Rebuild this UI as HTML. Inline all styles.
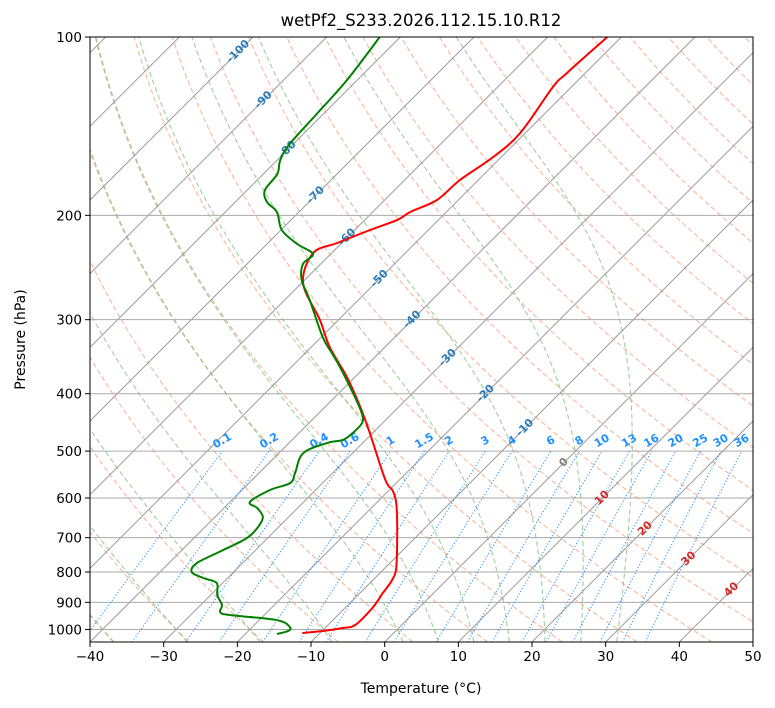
<!DOCTYPE html>
<html><head><meta charset="utf-8"><style>
html,body{margin:0;padding:0;background:#fff;}
svg{display:block;font-family:"DejaVu Sans","Liberation Sans",sans-serif;}
</style></head><body>
<svg id="chart" width="775" height="708" viewBox="0 0 775 708" xmlns="http://www.w3.org/2000/svg">
<defs><clipPath id="clip"><rect x="90" y="37" width="663" height="605"/></clipPath></defs>
<text x="421" y="26" text-anchor="middle" font-size="16.5">wetPf2_S233.2026.112.15.10.R12</text>
<g id="bg" clip-path="url(#clip)"></g>
<g id="lbl"></g>
<g id="prof" clip-path="url(#clip)"></g>
<rect x="90" y="37" width="663" height="605" fill="none" stroke="#000" stroke-width="1"/>
<g id="axes"></g>
<text x="421" y="693" text-anchor="middle" font-size="14">Temperature (°C)</text>
<text transform="translate(25,339.5) rotate(-90)" text-anchor="middle" font-size="14">Pressure (hPa)</text>
</svg>
<script>
// ---- data ----
const tempP = [100,115,121.4,145.2,159.5,174.3,188.4,197.4,203.7,211.7,222.7,231.5,260.2,300.4,333.7,374.9,421.3,465.9,559.4,581.6,611.7,679.5,784.6,825.3,868.1,919.9,982.9,994.3,1006,1014];
const tempT = [-51.9,-52.5,-52.5,-50.7,-51.1,-52.5,-52.9,-54.9,-55.6,-57.9,-60.6,-62.5,-59.8,-52.5,-47.5,-41.1,-35.2,-30.4,-21.9,-19.6,-17.3,-13.5,-8.6,-7.4,-6.9,-6.3,-6.3,-7.6,-9.9,-12.4];
const dewP = [100,118.2,134.9,151.6,161.3,170.3,181.3,189.9,197.4,211.7,223.6,232.4,241.6,257.2,277.9,321,341.5,360.6,399,431.2,448.2,465.9,478.7,484.4,504,544.5,566.1,581.6,609.3,623.7,645.9,671.5,701,734.4,772.5,799.9,818.8,835,874.7,909.4,934.6,945.5,964.2,990.8,1006,1018];
const dewT = [-82.8,-81.4,-80.9,-80.5,-79.6,-78.1,-77.6,-75.7,-73,-69.9,-65.9,-62.4,-62.4,-60.4,-56.6,-49.8,-46.4,-43.4,-38.1,-34.2,-32.8,-32.7,-33.1,-34.8,-36.7,-35.1,-34.4,-36.2,-37.3,-35.5,-33.5,-32.8,-32.8,-34.4,-36.2,-35.7,-33.3,-30.8,-29.1,-27.1,-26.4,-24.7,-17.6,-14.9,-14.6,-15.7];
const xTicks = [-40,-30,-20,-10,0,10,20,30,40,50];
const yTicks = [100,200,300,400,500,600,700,800,900,1000];
const isoLabelT = [-100,-90,-80,-70,-60,-50,-40,-30,-20,-10,0,10,20,30,40];
const isoLabelP = [105.9,127.8,155,185,218,256,300,348,400,457,523,600,676,760,857];
const mixRatios = [0.1,0.2,0.4,0.6,1,1.5,2,3,4,6,8,10,13,16,20,25,30,36];
const mixLabels = ["0.1","0.2","0.4","0.6","1","1.5","2","3","4","6","8","10","13","16","20","25","30","36"];
const dryT0 = [];for(let t=-50;t<=200;t+=10)dryT0.push(t);
const moistT0 = [-50,-40,-30,-20,-10,0,5,10,15,20,25,30];

// ---- axis functions ----
const L=90,R=753,T=37,B=642,PTOP=100,PBOT=1050;
const K=(R-L)/90;
function yP(p){return T+(Math.log(p/PTOP)/Math.log(PBOT/PTOP))*(B-T);}
function xT(t,p){const y=yP(p);return L+(t+40)*K+(B-y);}
const NS="http://www.w3.org/2000/svg";
function mk(tag,attrs,parent){const e=document.createElementNS(NS,tag);for(const k in attrs)e.setAttribute(k,attrs[k]);parent.appendChild(e);return e;}
function pathFrom(ps,ts){let d="";for(let i=0;i<ps.length;i++){d+=(i?"L":"M")+xT(ts[i],ps[i]).toFixed(1)+","+yP(ps[i]).toFixed(1);}return d;}
function smoothPath(ps,ts){const pts=ps.map((p,i)=>[xT(ts[i],p),yP(p)]);let d="M"+pts[0][0].toFixed(1)+","+pts[0][1].toFixed(1);
  for(let i=0;i<pts.length-1;i++){const p0=pts[Math.max(0,i-1)],p1=pts[i],p2=pts[i+1],p3=pts[Math.min(pts.length-1,i+2)];
    const c1=[p1[0]+(p2[0]-p0[0])/6,p1[1]+(p2[1]-p0[1])/6],c2=[p2[0]-(p3[0]-p1[0])/6,p2[1]-(p3[1]-p1[1])/6];
    d+="C"+c1[0].toFixed(1)+","+c1[1].toFixed(1)+" "+c2[0].toFixed(1)+","+c2[1].toFixed(1)+" "+p2[0].toFixed(1)+","+p2[1].toFixed(1);}
  return d;}
const bg=document.getElementById('bg'),lbl=document.getElementById('lbl'),prof=document.getElementById('prof'),axes=document.getElementById('axes');
const pgrid=[];for(let i=0;i<=120;i++)pgrid.push(PBOT*Math.pow(PTOP/PBOT,i/120));

// dry adiabats
for(const t0 of dryT0){
  const ts=pgrid.map(p=>(t0+273.15)*Math.pow(p/1000,0.28571)-273.15);
  const e=mk('path',{d:pathFrom(pgrid,ts),fill:'none',stroke:'#f4a582',"stroke-width":1.1,"stroke-dasharray":"5,3",opacity:0.8},bg);
  
  
}
// moist adiabats
function esat(tc){return 6.112*Math.exp(17.67*tc/(tc+243.5));}
function moistRate(p,tk){const Rd=287.04,Cp=1005.7,Lv=2.501e6,eps=0.622;const es=esat(tk-273.15);const rs=eps*es/(p-es);
  return (1/p)*(Rd*tk+Lv*rs)/(Cp+Lv*Lv*rs*eps/(Rd*tk*tk));}
function moistProfile(t0){
  function integ(p0,t,p1,steps){const h=(p1-p0)/steps;let p=p0,tk=t;const out=[[p,tk]];for(let i=0;i<steps;i++){const k1=moistRate(p,tk),k2=moistRate(p+h/2,tk+h*k1/2),k3=moistRate(p+h/2,tk+h*k2/2),k4=moistRate(p+h,tk+h*k3);tk+=h*(k1+2*k2+2*k3+k4)/6;p+=h;out.push([p,tk]);}return out;}
  const up=integ(1000,t0+273.15,100,180),dn=integ(1000,t0+273.15,1050,5);
  return dn.reverse().concat(up.slice(1));
}
for(const t0 of moistT0){
  const pts=moistProfile(t0);
  const e=mk('path',{d:pathFrom(pts.map(a=>a[0]),pts.map(a=>a[1]-273.15)),fill:'none',stroke:'#7fbf7f',"stroke-width":1.1,"stroke-dasharray":"5,3",opacity:0.75},bg);
  
  
}
// isotherms
for(let t=-160;t<=50;t+=10){
  const e=mk('line',{x1:xT(t,PBOT),y1:B,x2:xT(t,PTOP),y2:T,stroke:'#9a9a9a',"stroke-width":1},bg);
  
  
}
// pressure gridlines
for(const p of yTicks){
  const e=mk('line',{x1:L,y1:yP(p),x2:R,y2:yP(p),stroke:'#aaaaaa',"stroke-width":1},bg);
  
  
}
// mixing ratio lines
function tdFromW(w,p){const e=(w/1000)*p/(0.622+w/1000);const a=Math.log(e/6.112);return 243.5*a/(17.67-a);}
const mp=[];for(let i=0;i<=30;i++)mp.push(PBOT*Math.pow(500/PBOT,i/30));
mixRatios.forEach((w,i)=>{
  const e=mk('path',{d:pathFrom(mp,mp.map(p=>tdFromW(w,p))),fill:'none',stroke:'#1e90ff',"stroke-width":1.2,"stroke-dasharray":"1,2.2"},bg);
  
  
  const x=xT(tdFromW(w,500),500),y=yP(500)-10;
  if(x<R+5){
  const t=mk('text',{x:x,y:y,"text-anchor":"middle","dominant-baseline":"middle","font-size":"11","font-weight":"bold",fill:'#1e90ff',transform:`rotate(-30 ${x} ${y})`},lbl);
  t.textContent=mixLabels[i];
  
  }
});
// isotherm labels
isoLabelT.forEach((t,i)=>{
  const x=xT(t,isoLabelP[i]),y=yP(isoLabelP[i]);
  const col=t<0?'#2b7bba':(t===0?'#808080':'#d62728');
  const e=mk('text',{x:x,y:y,"text-anchor":"middle","dominant-baseline":"middle","font-size":"11","font-weight":"bold",fill:col,transform:`rotate(-45 ${x} ${y})`},lbl);
  e.textContent=String(t);
  
  
});
// profiles
const tl=mk('path',{d:smoothPath(tempP,tempT),fill:'none',stroke:'#ff0000',"stroke-width":2,"stroke-linejoin":"round"},prof);


const dl=mk('path',{d:smoothPath(dewP,dewT),fill:'none',stroke:'#008000',"stroke-width":2,"stroke-linejoin":"round"},prof);


// axes ticks
xTicks.forEach(t=>{const x=L+(t+40)*K;
  const l=mk('line',{x1:x,y1:B,x2:x,y2:B+5,stroke:'#000'},axes);
  
  
  const e=mk('text',{x:x,y:B+19,"text-anchor":"middle","font-size":"13.5"},axes);
  e.textContent=t<0?'\u2212'+(-t):String(t);
  
  
});
yTicks.forEach(p=>{const y=yP(p);
  const l=mk('line',{x1:L-5,y1:y,x2:L,y2:y,stroke:'#000'},axes);
  
  
  const e=mk('text',{x:L-8,y:y+5,"text-anchor":"end","font-size":"13.5"},axes);
  e.textContent=String(p);
  
  
});
</script>
</body></html>
